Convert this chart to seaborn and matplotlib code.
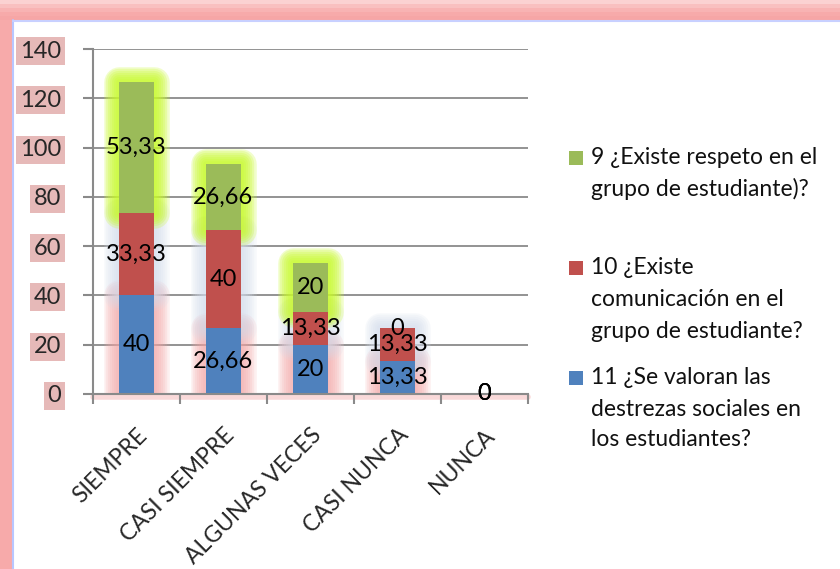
import numpy as np
import pandas as pd
import seaborn as sns
import matplotlib
matplotlib.use("Agg")
import matplotlib.pyplot as plt
from matplotlib import patheffects as pe
from matplotlib.patches import Rectangle
from matplotlib.lines import Line2D

# ---------------- data ----------------
categories = ["SIEMPRE", "CASI SIEMPRE", "ALGUNAS VECES", "CASI NUNCA", "NUNCA"]
q11_values = [40, 26.66, 20, 13.33, 0]      # blue (bottom)
q10_values = [33.33, 40, 13.33, 13.33, 0]   # red (middle)
q9_values = [53.33, 26.66, 20, 0, 0]        # green (top)
legend_labels = [
    ["9 ¿Existe respeto en el", "grupo de estudiante)?"],
    ["10 ¿Existe", "comunicación en el", "grupo de estudiante?"],
    ["11 ¿Se valoran las", "destrezas sociales en", "los estudiantes?"],
]
y_ticks = [0, 20, 40, 60, 80, 100, 120, 140]

# ---------------- style ----------------
sns.set_theme(style="white")
plt.rcParams['font.family'] = ['Lato', 'DejaVu Sans']

W, H = 840, 569
fig = plt.figure(figsize=(W / 100, H / 100), dpi=100)
fig.patch.set_facecolor("white")

# decorative frame (pink glow band top/left + thin blue line)
band_cols = ["#fbd2d2", "#f9c0c0", "#f8b3b3", "#f7aaaa", "#f6a6a6"]
for k, c in enumerate(band_cols):
    y0 = 1 - 20 / H + (len(band_cols) - 1 - k) * 4 / H
    fig.patches.append(Rectangle((0, y0), 1, 4 / H, transform=fig.transFigure,
                                 facecolor=c, edgecolor="none", zorder=0))
fig.patches.append(Rectangle((0, 0), 13 / W, 1 - 20 / H, transform=fig.transFigure,
                             facecolor="#f7aaaa", edgecolor="none", zorder=0))
fig.lines.append(Line2D([13.5 / W, 13.5 / W], [0, 1 - 20 / H], transform=fig.transFigure,
                        color="#b8c6ff", lw=1.5))
fig.lines.append(Line2D([13.5 / W, 1], [1 - 20.5 / H, 1 - 20.5 / H], transform=fig.transFigure,
                        color="#c8d0ff", lw=1.5))

ax = fig.add_axes([93 / W, 1 - 394 / H, 435 / W, 345 / H])
ax.set_facecolor("none")

blue, red, green = "#4f81bd", "#c0504d", "#9bbb59"
glow_cols = {"blue": "#f4a4a4", "red": "#d3dcec", "green": "#c8fa2c"}
glow_alpha = {"blue": 0.16, "red": 0.16, "green": 0.24}

b_blue = [0] * len(categories)
b_red = list(q11_values)
b_green = [a + b for a, b in zip(q11_values, q10_values)]

layers = [
    ("blue", q11_values, b_blue, blue),
    ("red", q10_values, b_red, red),
    ("green", q9_values, b_green, green),
]

# soft glow layer
glow_widths = [22, 19, 16, 13, 10, 7, 4]
for name, vals, bots, col in layers:
    n0 = len(ax.patches)
    sns.barplot(x=categories, y=vals, bottom=bots, color=glow_cols[name], saturation=1,
                width=0.4, errorbar=None, linewidth=0, ax=ax, zorder=1)
    gc = glow_cols[name]
    for p, v in zip(ax.patches[n0:], vals):
        if v == 0:
            p.set_visible(False)
            continue
        effects = [pe.Stroke(linewidth=w, foreground=gc, alpha=glow_alpha[name],
                             joinstyle="round") for w in glow_widths]
        effects.append(pe.Normal())
        p.set_path_effects(effects)

# main bars
for name, vals, bots, col in layers:
    n0 = len(ax.patches)
    sns.barplot(x=categories, y=vals, bottom=bots, color=col, saturation=1,
                width=0.4, errorbar=None, linewidth=0, ax=ax, zorder=3)
    for p, v in zip(ax.patches[n0:], vals):
        if v == 0:
            p.set_visible(False)


def fmt(v):
    if float(v).is_integer():
        return str(int(v))
    return f"{v:.2f}".replace(".", ",")


# data labels
for name, vals, bots, col in layers:
    for i, (v, b) in enumerate(zip(vals, bots)):
        y = b + v / 2 if v > 0 else b
        ax.text(i, y, fmt(v), ha="center", va="center", fontsize=17,
                color="black", zorder=5)

# axes styling
ax.set_ylim(0, 140)
ax.set_xlim(-0.5, len(categories) - 0.5)
ax.set_yticks(y_ticks)
ax.set_yticklabels([str(t) for t in y_ticks])
ax.grid(axis="y", color="#8a8a8a", lw=1.3, zorder=0)
ax.grid(axis="x", visible=False)
ax.set_axisbelow(True)
for s in ["top", "right"]:
    ax.spines[s].set_visible(False)
for s in ["left", "bottom"]:
    ax.spines[s].set_color("#8a8a8a")
    ax.spines[s].set_linewidth(1.5)
    ax.spines[s].set_zorder(4)

# faint pink glow under x axis
ax.axhline(-1.2, color="#f5baba", lw=4, alpha=0.55, zorder=0.5, clip_on=False)

ax.set_xlabel("")
ax.set_ylabel("")
ax.set_xticks(range(len(categories)))
ax.set_xticklabels(categories, rotation=45, ha="right", va="top",
                   rotation_mode="anchor", fontsize=16.5)
ax.set_xticks(np.arange(-0.5, len(categories), 1), minor=True)
ax.tick_params(axis="x", which="major", length=0, pad=22)
ax.tick_params(axis="x", which="minor", length=7, width=1.5, color="#8a8a8a",
               direction="out", bottom=True)
ax.tick_params(axis="y", which="major", length=7, width=1.5, color="#8a8a8a",
               direction="out", left=True, pad=16, labelsize=17)
for lab in ax.get_yticklabels():
    lab.set_bbox(dict(facecolor="#e6b9b8", edgecolor="none", pad=2.5))

# legend (manual placement)
legend_cols = [green, red, blue]
legend_y = [[158, 189], [268, 300, 331], [378, 410, 440]]
for col, lines, ys in zip(legend_cols, legend_labels, legend_y):
    fig.patches.append(Rectangle((569 / W, 1 - (ys[0] + 7) / H), 14 / W, 14 / H,
                                 transform=fig.transFigure, facecolor=col,
                                 edgecolor="none"))
    for line, y in zip(lines, ys):
        fig.text(591 / W, 1 - y / H, line, ha="left", va="center", fontsize=16.5,
                 color="#111111")

fig.savefig("out.png", dpi=100)
